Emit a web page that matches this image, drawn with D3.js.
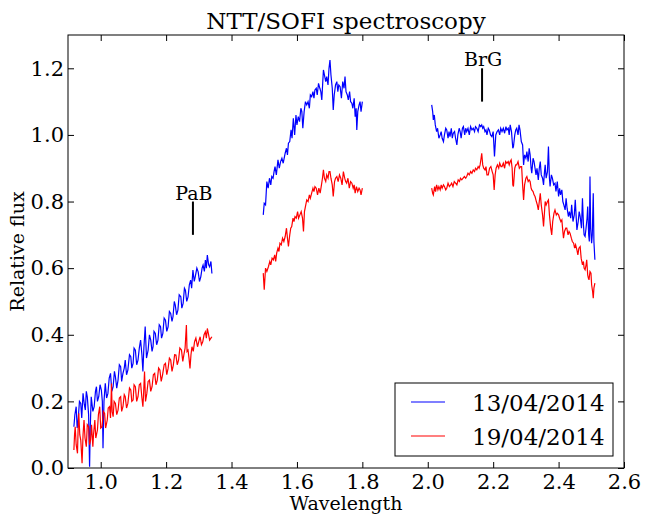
<!DOCTYPE html>
<html>
<head>
<meta charset="utf-8">
<script src="https://cdn.jsdelivr.net/npm/d3@7"></script>
<style>
  html, body { margin: 0; padding: 0; background: #fff; }
  svg { display: block; }
  text { font-family: "DejaVu Serif", serif; fill: #000; }
</style>
</head>
<body>
<svg id="chart" width="646" height="515"></svg>
<script>
// ---------------- DATA ----------------
const title = "NTT/SOFI spectroscopy";
const xLabel = "Wavelength";
const yLabel = "Relative flux";
const seriesNames = ["13/04/2014", "19/04/2014"];
const seriesColors = ["#0000ff", "#ff0000"];
const xTicks = [1.0, 1.2, 1.4, 1.6, 1.8, 2.0, 2.2, 2.4, 2.6];
const yTicks = [0.0, 0.2, 0.4, 0.6, 0.8, 1.0, 1.2];
const lineLabels = ["PaB", "BrG"];
const lineWaves = [1.282, 2.166];
const lineLow = [0.70, 1.10];
const lineHigh = [0.80, 1.20];

// 13/04/2014 (blue) — J band
const blueWave1 = [0.918,0.921,0.925,0.928,0.931,0.935,0.939,0.942,0.946,0.95,0.953,0.956,0.959,0.963,0.966,0.968,0.971,0.976,0.98,0.984,0.987,0.99,0.994,0.998,1.002,1.005,1.007,1.01,1.014,1.018,1.022,1.026,1.03,1.034,1.038,1.042,1.045,1.049,1.053,1.057,1.061,1.064,1.068,1.072,1.075,1.079,1.083,1.088,1.092,1.095,1.099,1.102,1.106,1.11,1.114,1.118,1.122,1.126,1.129,1.132,1.136,1.14,1.145,1.149,1.153,1.157,1.16,1.163,1.167,1.171,1.175,1.179,1.183,1.186,1.19,1.194,1.198,1.202,1.206,1.21,1.214,1.218,1.221,1.225,1.228,1.232,1.236,1.24,1.245,1.248,1.252,1.256,1.259,1.263,1.267,1.271,1.275,1.278,1.282,1.286,1.289,1.294,1.298,1.302,1.306,1.31,1.313,1.317,1.32,1.323,1.326,1.33,1.333,1.337,1.34];
const blueFlux1 = [0.124,0.16,0.184,0.12,0.144,0.2,0.194,0.15,0.224,0.19,0.174,0.23,0.214,0.16,0.004,0.12,0.214,0.17,0.184,0.23,0.244,0.2,0.214,0.25,0.234,0.2,0.059,0.2,0.254,0.21,0.224,0.27,0.284,0.23,0.244,0.29,0.274,0.24,0.264,0.31,0.304,0.26,0.284,0.3,0.324,0.28,0.294,0.34,0.334,0.3,0.314,0.36,0.354,0.31,0.324,0.36,0.384,0.34,0.29,0.36,0.425,0.33,0.354,0.4,0.384,0.35,0.364,0.41,0.404,0.37,0.384,0.43,0.424,0.39,0.404,0.45,0.444,0.41,0.424,0.47,0.464,0.44,0.454,0.5,0.489,0.46,0.474,0.52,0.514,0.48,0.494,0.54,0.534,0.5,0.514,0.55,0.564,0.54,0.594,0.56,0.574,0.6,0.589,0.56,0.574,0.6,0.609,0.59,0.624,0.6,0.639,0.61,0.604,0.62,0.584];

// 13/04/2014 (blue) — H band
const blueWave2 = [1.497,1.5,1.504,1.508,1.512,1.516,1.52,1.523,1.527,1.53,1.533,1.537,1.542,1.546,1.55,1.554,1.558,1.564,1.568,1.571,1.574,1.578,1.582,1.585,1.589,1.593,1.597,1.6,1.604,1.608,1.612,1.615,1.618,1.622,1.626,1.63,1.634,1.638,1.641,1.645,1.649,1.652,1.655,1.659,1.662,1.666,1.67,1.673,1.676,1.679,1.681,1.684,1.688,1.691,1.695,1.698,1.701,1.704,1.708,1.711,1.714,1.718,1.722,1.725,1.728,1.732,1.736,1.74,1.744,1.747,1.75,1.754,1.757,1.761,1.764,1.768,1.771,1.775,1.778,1.781,1.783,1.786,1.79,1.793,1.796,1.8];
const blueFlux2 = [0.76,0.795,0.79,0.86,0.84,0.87,0.85,0.875,0.87,0.89,0.905,0.88,0.925,0.9,0.92,0.93,0.915,0.945,0.96,0.94,0.975,0.98,1.015,0.99,1.05,1.0,1.06,1.03,1.055,1.04,1.08,1.07,1.02,1.07,1.1,1.09,1.1,1.08,1.12,1.115,1.13,1.11,1.135,1.14,1.12,1.155,1.14,1.13,1.105,1.16,1.195,1.18,1.16,1.175,1.15,1.2,1.225,1.18,1.14,1.075,1.12,1.15,1.16,1.13,1.15,1.145,1.11,1.16,1.14,1.175,1.13,1.12,1.105,1.13,1.1,1.095,1.08,1.11,1.055,1.08,1.015,1.07,1.09,1.1,1.07,1.1];

// 13/04/2014 (blue) — K band
const blueWave3 = [2.012,2.015,2.017,2.02,2.023,2.027,2.03,2.034,2.038,2.041,2.044,2.048,2.051,2.055,2.058,2.062,2.065,2.068,2.072,2.075,2.078,2.082,2.085,2.089,2.092,2.096,2.099,2.102,2.106,2.109,2.113,2.116,2.119,2.123,2.127,2.131,2.135,2.139,2.143,2.146,2.15,2.154,2.158,2.162,2.165,2.168,2.171,2.175,2.178,2.181,2.185,2.188,2.192,2.196,2.2,2.204,2.208,2.212,2.216,2.22,2.223,2.227,2.231,2.235,2.239,2.242,2.246,2.249,2.252,2.256,2.26,2.262,2.266,2.269,2.272,2.276,2.279,2.282,2.286,2.29,2.293,2.296,2.3,2.303,2.307,2.31,2.313,2.316,2.318,2.322,2.325,2.328,2.331,2.334,2.338,2.341,2.344,2.347,2.351,2.354,2.357,2.359,2.362,2.366,2.369,2.372,2.374,2.378,2.381,2.385,2.389,2.392,2.396,2.4,2.403,2.406,2.41,2.413,2.416,2.42,2.423,2.426,2.43,2.433,2.437,2.44,2.444,2.448,2.451,2.454,2.456,2.46,2.463,2.466,2.47,2.473,2.476,2.478,2.481,2.484,2.487,2.489,2.492,2.494,2.496,2.498,2.501,2.503,2.506,2.508,2.511];
const blueFlux3 = [1.09,1.07,1.045,1.06,1.03,1.01,1.02,0.99,1.0,1.01,0.99,0.98,1.0,1.02,1.015,0.99,1.01,0.995,1.02,0.99,1.005,1.01,0.99,0.97,1.0,1.02,1.01,0.99,1.02,1.025,1.0,1.02,1.01,1.02,1.0,1.025,1.015,1.02,1.01,1.025,1.02,1.01,1.03,1.025,1.03,1.02,1.025,1.01,1.015,1.0,1.02,1.015,1.0,0.995,1.01,0.935,1.0,1.01,1.015,1.0,1.02,1.01,1.02,1.005,1.025,1.015,1.02,1.0,1.03,1.01,0.96,0.965,1.0,1.015,1.02,1.0,1.03,1.015,0.98,0.97,0.91,0.94,0.93,0.95,0.92,0.96,0.94,0.9,0.885,0.93,0.92,0.9,0.88,0.9,0.865,0.9,0.92,0.88,0.87,0.85,0.89,0.91,0.87,0.89,0.965,0.87,0.845,0.88,0.87,0.85,0.855,0.83,0.86,0.815,0.84,0.82,0.835,0.8,0.79,0.775,0.81,0.78,0.755,0.77,0.75,0.79,0.74,0.76,0.805,0.75,0.715,0.74,0.77,0.755,0.72,0.81,0.73,0.7,0.695,0.72,0.75,0.785,0.7,0.68,0.875,0.72,0.675,0.7,0.825,0.68,0.625];

// 19/04/2014 (red) — J band
const redWave1 = [0.918,0.92,0.922,0.925,0.929,0.931,0.933,0.936,0.939,0.941,0.943,0.946,0.949,0.952,0.956,0.959,0.963,0.966,0.969,0.972,0.976,0.978,0.982,0.985,0.99,0.993,0.997,1.0,1.004,1.008,1.012,1.015,1.02,1.023,1.027,1.03,1.033,1.035,1.038,1.041,1.045,1.049,1.053,1.057,1.061,1.064,1.068,1.072,1.075,1.079,1.083,1.088,1.092,1.095,1.099,1.102,1.106,1.11,1.114,1.118,1.122,1.126,1.129,1.131,1.134,1.137,1.141,1.145,1.149,1.153,1.157,1.161,1.165,1.169,1.173,1.177,1.181,1.185,1.189,1.194,1.198,1.202,1.206,1.21,1.214,1.218,1.222,1.226,1.23,1.234,1.238,1.242,1.247,1.251,1.255,1.258,1.262,1.264,1.267,1.27,1.273,1.276,1.279,1.283,1.287,1.291,1.296,1.3,1.304,1.308,1.312,1.316,1.32,1.323,1.326,1.33,1.333,1.337,1.34];
const redFlux1 = [0.054,0.1,0.124,0.07,0.044,0.12,0.164,0.1,0.084,0.05,0.014,0.1,0.144,0.09,0.064,0.13,0.124,0.07,0.084,0.13,0.064,0.1,0.144,0.09,0.114,0.16,0.184,0.12,0.124,0.17,0.164,0.12,0.144,0.18,0.184,0.15,0.254,0.17,0.154,0.2,0.194,0.16,0.174,0.21,0.214,0.17,0.184,0.22,0.214,0.18,0.194,0.24,0.234,0.2,0.204,0.25,0.244,0.2,0.214,0.25,0.254,0.21,0.184,0.22,0.29,0.2,0.224,0.26,0.264,0.23,0.244,0.28,0.284,0.25,0.264,0.3,0.294,0.26,0.279,0.31,0.314,0.28,0.299,0.33,0.324,0.29,0.309,0.34,0.339,0.31,0.324,0.36,0.354,0.32,0.344,0.36,0.429,0.35,0.354,0.33,0.299,0.34,0.364,0.35,0.379,0.39,0.364,0.38,0.394,0.37,0.379,0.4,0.409,0.39,0.419,0.4,0.384,0.39,0.394];

// 19/04/2014 (red) — H band
const redWave2 = [1.497,1.5,1.504,1.508,1.513,1.517,1.52,1.524,1.528,1.532,1.535,1.538,1.542,1.545,1.548,1.552,1.556,1.56,1.564,1.568,1.571,1.574,1.578,1.581,1.584,1.588,1.591,1.594,1.598,1.602,1.605,1.609,1.613,1.617,1.62,1.623,1.627,1.63,1.634,1.638,1.641,1.645,1.649,1.652,1.655,1.659,1.663,1.667,1.671,1.675,1.678,1.681,1.684,1.688,1.691,1.695,1.698,1.701,1.704,1.708,1.711,1.715,1.718,1.722,1.726,1.73,1.734,1.738,1.742,1.746,1.749,1.752,1.756,1.76,1.764,1.768,1.772,1.775,1.778,1.782,1.786,1.79,1.793,1.796,1.8];
const redFlux2 = [0.585,0.535,0.6,0.59,0.605,0.62,0.61,0.63,0.625,0.64,0.62,0.645,0.66,0.65,0.675,0.67,0.69,0.68,0.695,0.72,0.69,0.665,0.7,0.72,0.725,0.75,0.74,0.755,0.75,0.77,0.75,0.76,0.77,0.75,0.71,0.77,0.79,0.805,0.8,0.82,0.81,0.825,0.84,0.83,0.845,0.84,0.82,0.84,0.825,0.85,0.87,0.895,0.87,0.86,0.88,0.87,0.89,0.89,0.87,0.85,0.815,0.86,0.87,0.875,0.86,0.88,0.87,0.85,0.89,0.87,0.86,0.855,0.87,0.84,0.86,0.855,0.84,0.85,0.825,0.845,0.83,0.84,0.835,0.82,0.84];

// 19/04/2014 (red) — K band
const redWave3 = [2.012,2.015,2.017,2.021,2.024,2.027,2.031,2.034,2.038,2.041,2.044,2.048,2.051,2.055,2.058,2.062,2.066,2.07,2.073,2.077,2.081,2.085,2.089,2.093,2.097,2.1,2.104,2.108,2.112,2.116,2.119,2.123,2.127,2.131,2.135,2.139,2.143,2.146,2.15,2.154,2.157,2.16,2.163,2.165,2.168,2.171,2.175,2.178,2.181,2.185,2.189,2.193,2.197,2.2,2.203,2.206,2.209,2.213,2.217,2.22,2.224,2.227,2.231,2.235,2.238,2.242,2.246,2.249,2.252,2.255,2.258,2.26,2.262,2.266,2.269,2.272,2.276,2.28,2.284,2.287,2.29,2.293,2.296,2.3,2.303,2.307,2.31,2.313,2.316,2.318,2.322,2.325,2.328,2.332,2.335,2.338,2.341,2.344,2.347,2.351,2.354,2.357,2.359,2.362,2.366,2.369,2.372,2.376,2.379,2.382,2.386,2.389,2.393,2.396,2.4,2.403,2.407,2.41,2.413,2.415,2.418,2.422,2.425,2.429,2.432,2.435,2.439,2.442,2.446,2.449,2.452,2.456,2.459,2.462,2.466,2.469,2.473,2.476,2.478,2.481,2.484,2.486,2.489,2.491,2.493,2.496,2.499,2.501,2.504,2.506,2.508,2.511];
const redFlux3 = [0.84,0.825,0.82,0.845,0.83,0.85,0.835,0.845,0.835,0.85,0.84,0.85,0.845,0.835,0.84,0.855,0.845,0.85,0.855,0.845,0.86,0.855,0.85,0.865,0.86,0.87,0.865,0.87,0.875,0.87,0.875,0.885,0.88,0.89,0.885,0.895,0.89,0.9,0.895,0.905,0.9,0.91,0.93,0.945,0.91,0.9,0.895,0.905,0.88,0.88,0.9,0.905,0.89,0.88,0.835,0.88,0.9,0.91,0.9,0.915,0.905,0.905,0.915,0.9,0.92,0.915,0.92,0.91,0.92,0.925,0.9,0.85,0.845,0.9,0.91,0.91,0.92,0.9,0.905,0.905,0.85,0.805,0.85,0.87,0.875,0.86,0.865,0.86,0.84,0.835,0.83,0.82,0.815,0.8,0.79,0.775,0.8,0.825,0.79,0.76,0.725,0.77,0.8,0.79,0.8,0.805,0.76,0.72,0.7,0.74,0.765,0.775,0.76,0.765,0.76,0.75,0.74,0.745,0.71,0.69,0.71,0.72,0.72,0.7,0.71,0.705,0.69,0.68,0.675,0.66,0.67,0.655,0.64,0.66,0.665,0.63,0.61,0.62,0.6,0.595,0.61,0.625,0.58,0.57,0.565,0.59,0.585,0.55,0.53,0.51,0.54,0.555];

// ---------------- CHART ----------------
const W = 646, H = 515;
const margin = { left: 68, right: 22, top: 35, bottom: 47 };
const x0 = margin.left, x1 = W - margin.right, y0 = margin.top, y1 = H - margin.bottom;

const x = d3.scaleLinear().domain([0.9, 2.6]).range([x0, x1]);
const y = d3.scaleLinear().domain([0.0, 1.3]).range([y1, y0]);

const svg = d3.select("#chart");
svg.append("rect").attr("width", W).attr("height", H).attr("fill", "#fff");

const zip = (w, f) => w.map((v, i) => [v, f[i]]);
const segments = [
  { s: 0, pts: zip(blueWave1, blueFlux1) },
  { s: 0, pts: zip(blueWave2, blueFlux2) },
  { s: 0, pts: zip(blueWave3, blueFlux3) },
  { s: 1, pts: zip(redWave1, redFlux1) },
  { s: 1, pts: zip(redWave2, redFlux2) },
  { s: 1, pts: zip(redWave3, redFlux3) }
];

svg.append("defs").append("clipPath").attr("id", "plotclip")
  .append("rect").attr("x", x0).attr("y", y0).attr("width", x1 - x0).attr("height", y1 - y0);

const line = d3.line().x(d => x(d[0])).y(d => y(d[1]));
const plot = svg.append("g").attr("clip-path", "url(#plotclip)");
[0, 1].forEach(s => {
  segments.filter(g => g.s === s).forEach(g => {
    plot.append("path").datum(g.pts)
      .attr("d", line)
      .attr("fill", "none")
      .attr("stroke", seriesColors[s])
      .attr("stroke-width", 1.2)
      .attr("stroke-linejoin", "miter");
  });
});

// Spectral line markers
lineWaves.forEach((w, i) => {
  svg.append("line")
    .attr("x1", x(w)).attr("x2", x(w))
    .attr("y1", y(lineLow[i])).attr("y2", y(lineHigh[i]))
    .attr("stroke", "#000").attr("stroke-width", 2);
  svg.append("text")
    .attr("x", x(w) + 1).attr("y", y(lineHigh[i]) - 2)
    .attr("text-anchor", "middle")
    .style("font-size", "19px")
    .text(lineLabels[i]);
});

// Axes
const fmt = d3.format(".1f");
const gx = svg.append("g").attr("transform", `translate(0,${y1})`)
  .call(d3.axisBottom(x).tickValues(xTicks).tickFormat(fmt).tickSizeInner(-6).tickSizeOuter(0).tickPadding(6));
const gxt = svg.append("g").attr("transform", `translate(0,${y0})`)
  .call(d3.axisTop(x).tickValues(xTicks).tickFormat("").tickSizeInner(-6).tickSizeOuter(0));
const gy = svg.append("g").attr("transform", `translate(${x0},0)`)
  .call(d3.axisLeft(y).tickValues(yTicks).tickFormat(fmt).tickSizeInner(-6).tickSizeOuter(0).tickPadding(4));
const gyr = svg.append("g").attr("transform", `translate(${x1},0)`)
  .call(d3.axisRight(y).tickValues(yTicks).tickFormat("").tickSizeInner(-6).tickSizeOuter(0));

[gx, gxt, gy, gyr].forEach(g => {
  g.selectAll(".domain").remove();
  g.selectAll(".tick line").attr("stroke", "#000").attr("stroke-width", 1);
  g.selectAll("text").style("font-family", '"DejaVu Serif", serif').style("font-size", "21px").attr("fill", "#000");
});

svg.append("rect")
  .attr("x", x0).attr("y", y0).attr("width", x1 - x0).attr("height", y1 - y0)
  .attr("fill", "none").attr("stroke", "#000").attr("stroke-width", 1);

// Title and labels
svg.append("text").attr("x", (x0 + x1) / 2).attr("y", 29)
  .attr("text-anchor", "middle").style("font-size", "23px").text(title);
svg.append("text").attr("x", (x0 + x1) / 2).attr("y", 510)
  .attr("text-anchor", "middle").style("font-size", "19px").text(xLabel);
svg.append("text")
  .attr("transform", `translate(24,${(y0 + y1) / 2}) rotate(-90)`)
  .attr("text-anchor", "middle").style("font-size", "19px").text(yLabel);

// Legend
const lg = svg.append("g");
lg.append("rect").attr("x", 395).attr("y", 383).attr("width", 218).attr("height", 73)
  .attr("fill", "#fff").attr("stroke", "#000").attr("stroke-width", 1);
seriesNames.forEach((n, i) => {
  const cy = 402 + i * 34;
  lg.append("line").attr("x1", 411).attr("x2", 445).attr("y1", cy).attr("y2", cy)
    .attr("stroke", seriesColors[i]).attr("stroke-width", 1.2);
  lg.append("text").attr("x", 472).attr("y", cy + 9)
    .style("font-size", "23px").text(n);
});
</script>
</body>
</html>
